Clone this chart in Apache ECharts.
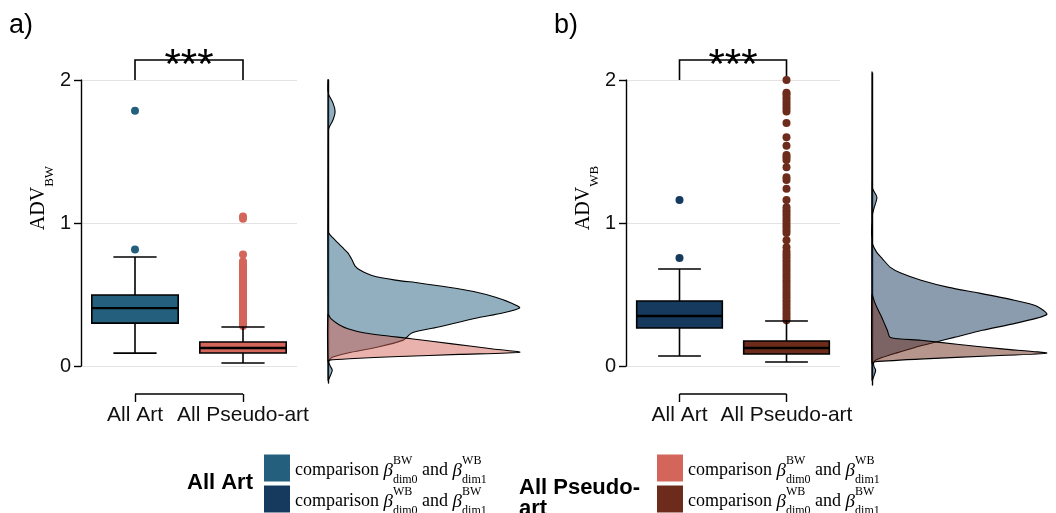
<!DOCTYPE html>
<html>
<head>
<meta charset="utf-8">
<script src="https://cdn.jsdelivr.net/npm/echarts@6/dist/echarts.min.js"></script>
<style>
  html, body { margin: 0; padding: 0; background: #fff; }
  #chart { width: 1056px; height: 513px; }
</style>
</head>
<body>
<div id="chart"></div>
<script>
const categories = ['All Art', 'All Pseudo-art'];

// [lower whisker, Q1, median, Q3, upper whisker]
const boxArtBW = [0.09, 0.30, 0.405, 0.497, 0.762];
const boxPseudoBW = [0.021, 0.091, 0.126, 0.168, 0.273];
const boxArtWB = [0.07, 0.266, 0.35, 0.455, 0.678];
const boxPseudoWB = [0.028, 0.084, 0.126, 0.175, 0.315];

const outArtBW = [0.815, 1.785];
const outPseudoBW = [0.28, 0.29, 0.30, 0.31, 0.32, 0.33, 0.34, 0.35, 0.36, 0.37, 0.38, 0.39,
  0.40, 0.41, 0.42, 0.43, 0.44, 0.45, 0.46, 0.47, 0.48, 0.49, 0.50, 0.51, 0.52, 0.53, 0.54,
  0.55, 0.56, 0.57, 0.58, 0.59, 0.60, 0.61, 0.62, 0.63, 0.64, 0.65, 0.66, 0.67, 0.68, 0.69,
  0.70, 0.71, 0.72, 0.73, 0.78, 1.03, 1.045];
const outArtWB = [0.755, 1.16];
const outPseudoWB = [0.32, 0.34, 0.36, 0.38, 0.40, 0.42, 0.44, 0.46, 0.48, 0.50, 0.52, 0.54,
  0.56, 0.58, 0.60, 0.62, 0.64, 0.66, 0.68, 0.70, 0.72, 0.74, 0.76, 0.78, 0.80, 0.83, 0.88,
  0.93, 0.95, 0.97, 0.99, 1.01, 1.03, 1.05, 1.07, 1.09, 1.11, 1.16, 1.24, 1.30, 1.32, 1.39,
  1.44, 1.46, 1.475, 1.54, 1.60, 1.70, 1.78, 1.80, 1.82, 1.84, 1.86, 1.88, 1.90, 1.91, 2.00];

// density curves: [ADV, density]
const densArtBW = [
  [-0.10, 0], [-0.06, 0.04], [-0.03, 0.06], [0.00, 0.03], [0.03, 0.01], [0.06, 0.06],
  [0.09, 0.28], [0.13, 0.69], [0.18, 1.06], [0.23, 1.18], [0.27, 1.54], [0.335, 2.10],
  [0.37, 2.46], [0.405, 2.70], [0.44, 2.58], [0.48, 2.36], [0.52, 2.05], [0.55, 1.70],
  [0.58, 1.28], [0.60, 0.95], [0.63, 0.63], [0.67, 0.45], [0.70, 0.38], [0.74, 0.34],
  [0.79, 0.28], [0.83, 0.20], [0.86, 0.14], [0.90, 0.06], [0.93, 0.01], [0.97, 0],
  [1.60, 0], [1.66, 0.01], [1.72, 0.07], [1.78, 0.10], [1.84, 0.07], [1.91, 0], [2.00, 0]
];
const densPseudoBW = [
  [0.03, 0], [0.04, 0.02], [0.05, 0.30], [0.065, 1.00], [0.08, 1.85], [0.095, 2.70],
  [0.12, 2.30], [0.154, 1.75], [0.19, 1.17], [0.23, 0.52], [0.26, 0.28], [0.29, 0.15],
  [0.33, 0.04], [0.36, 0]
];
const densArtWB = [
  [-0.10, 0], [-0.06, 0.04], [-0.03, 0.06], [0.00, 0.03], [0.03, 0.03], [0.05, 0.11],
  [0.09, 0.39], [0.13, 0.70], [0.17, 1.06], [0.20, 1.34], [0.25, 1.80], [0.30, 2.35],
  [0.36, 2.85], [0.42, 2.68], [0.46, 2.32], [0.51, 1.75], [0.55, 1.25], [0.60, 0.80],
  [0.65, 0.47], [0.69, 0.30], [0.75, 0.17], [0.80, 0.07], [0.87, 0],
  [1.04, 0], [1.10, 0.03], [1.18, 0.08], [1.24, 0.01], [1.28, 0], [2.05, 0]
];
const densPseudoWB = [
  [0.02, 0], [0.03, 0.05], [0.05, 0.85], [0.07, 1.90], [0.09, 2.85], [0.12, 2.12],
  [0.15, 1.42], [0.18, 0.80], [0.20, 0.30], [0.25, 0.25], [0.30, 0.20], [0.35, 0.15],
  [0.40, 0.09], [0.45, 0.04], [0.50, 0]
];

const legendNames = ['artBW', 'artWB', 'pseudoBW', 'pseudoWB'];
const legendText = {
  artBW: 'comparison {g|β}{sp|BW}{sb|dim0} and {g|β}{sp|WB}{sb|dim1}',
  artWB: 'comparison {g|β}{sp|WB}{sb|dim0} and {g|β}{sp|BW}{sb|dim1}',
  pseudoBW: 'comparison {g|β}{sp|BW}{sb|dim0} and {g|β}{sp|WB}{sb|dim1}',
  pseudoWB: 'comparison {g|β}{sp|WB}{sb|dim0} and {g|β}{sp|BW}{sb|dim1}',
};

const COL = { artBW: '#245f7e', pseudoBW: '#d3655a', artWB: '#163a5d', pseudoWB: '#6d2c1b' };
const SANS = "'Liberation Sans', Arial, sans-serif";
const SERIF = "'Liberation Serif', 'Times New Roman', serif";

function fade(hex, a) {
  const n = parseInt(hex.slice(1), 16);
  return `rgba(${n >> 16},${(n >> 8) & 255},${n & 255},${a})`;
}

function renderBox(params, api) {
  const c = api.value(0);
  const lo = api.coord([c, api.value(1)]);
  const q1 = api.coord([c, api.value(2)]);
  const md = api.coord([c, api.value(3)]);
  const q3 = api.coord([c, api.value(4)]);
  const hi = api.coord([c, api.value(5)]);
  const bw = api.size([1, 0])[0] * 0.8;
  const cw = bw / 2;
  const x = lo[0];
  const st = { stroke: '#000', lineWidth: 1.6 };
  return {
    type: 'group',
    children: [
      { type: 'line', shape: { x1: x, y1: lo[1], x2: x, y2: q1[1] }, style: st },
      { type: 'line', shape: { x1: x, y1: q3[1], x2: x, y2: hi[1] }, style: st },
      { type: 'line', shape: { x1: x - cw / 2, y1: lo[1], x2: x + cw / 2, y2: lo[1] }, style: st },
      { type: 'line', shape: { x1: x - cw / 2, y1: hi[1], x2: x + cw / 2, y2: hi[1] }, style: st },
      { type: 'rect', shape: { x: x - bw / 2, y: q3[1], width: bw, height: q1[1] - q3[1] },
        style: { fill: api.visual('color'), stroke: '#000', lineWidth: 1.6 } },
      { type: 'line', shape: { x1: x - bw / 2, y1: md[1], x2: x + bw / 2, y2: md[1] },
        style: { stroke: '#000', lineWidth: 2.4 } },
    ],
  };
}

function boxSeries(name, cat, stats, axis) {
  return {
    name, type: 'custom', xAxisIndex: axis, yAxisIndex: axis,
    itemStyle: { color: COL[name] },
    encode: { x: 0, y: [1, 2, 3, 4, 5] },
    data: [[cat, ...stats]],
    renderItem: renderBox,
    z: 3,
  };
}

function outlierSeries(name, cat, values, axis) {
  return {
    type: 'scatter', xAxisIndex: axis, yAxisIndex: axis, clip: false,
    symbolSize: 8, itemStyle: { color: COL[name], opacity: 1 },
    data: values.map((v) => [cat, v]),
    z: 2,
  };
}

function densitySeries(key, curve, axis) {
  return {
    type: 'custom', xAxisIndex: axis, yAxisIndex: axis, clip: false,
    encode: { x: 0, y: 1 },
    data: curve.map((d) => [d[1], d[0]]),
    renderItem: (params, api) => {
      if (params.dataIndex !== 0) return null;
      const pts = curve.map((d) => api.coord([d[1], d[0]]));
      return { type: 'polygon', shape: { points: pts, smooth: 0.25 },
        style: { fill: fade(COL[key], 0.5), stroke: '#000', lineWidth: 1.1 } };
    },
  };
}

function bracketSeries(axis) {
  return {
    type: 'custom', xAxisIndex: axis, yAxisIndex: axis, clip: false,
    data: [[0, 1, 2.0, 2.14]],
    renderItem: (params, api) => {
      const a0 = api.coord([api.value(0), api.value(2)]);
      const a1 = api.coord([api.value(0), api.value(3)]);
      const b1 = api.coord([api.value(1), api.value(3)]);
      const b0 = api.coord([api.value(1), api.value(2)]);
      return {
        type: 'group',
        children: [
          { type: 'polyline', shape: { points: [a0, a1, b1, b0] },
            style: { stroke: '#000', lineWidth: 1.6, fill: null } },
          { type: 'text', style: { text: '***', x: (a1[0] + b1[0]) / 2, y: a1[1] + 6,
            align: 'center', verticalAlign: 'middle', font: `42px ${SANS}`, fill: '#000' } },
        ],
      };
    },
  };
}

function capLine(axis) {
  return {
    type: 'line', xAxisIndex: axis, yAxisIndex: axis, symbol: 'none', clip: false,
    lineStyle: { color: '#000', width: 1.4 },
    data: [[0, 0], [1, 0]],
  };
}

const yName = (sub, gap) => ({
  name: `{a|ADV}{s|${sub}}`,
  nameLocation: 'middle',
  nameGap: gap,
  nameRotate: 90,
  nameTextStyle: {
    padding: [0, 0, 0, 50],
    rich: {
      a: { fontFamily: SERIF, fontSize: 20, color: '#000', lineHeight: 20, verticalAlign: 'top' },
      s: { fontFamily: SERIF, fontSize: 13, color: '#000', lineHeight: 27, verticalAlign: 'bottom' },
    },
  },
});

const boxY = (sub, gap) => ({
  type: 'value', min: 0, max: 2, interval: 1,
  axisLine: { show: true, lineStyle: { color: '#000', width: 1.4 } },
  axisTick: { show: true, length: 7, lineStyle: { color: '#000', width: 1.4 } },
  axisLabel: { color: '#111', fontSize: 20, fontFamily: SANS, margin: 10 },
  splitLine: { show: true, lineStyle: { color: '#e3e3e3', width: 1.2 } },
  ...yName(sub, gap),
});
const hiddenY = (min, max) => ({ type: 'value', min, max, show: false });
const densY = (min, max) => ({
  type: 'value', min, max,
  axisLine: { show: true, lineStyle: { color: '#000', width: 1.4 } },
  axisTick: { show: false }, axisLabel: { show: false }, splitLine: { show: false },
});
const catX = (labels) => ({
  type: 'category', data: categories,
  axisLine: { show: false },
  axisTick: { show: labels, length: 8, alignWithLabel: true, lineStyle: { color: '#000', width: 1.4 } },
  axisLabel: { show: labels, interval: 0, color: '#111', fontSize: 21, fontFamily: SANS, margin: 11 },
  splitLine: { show: false },
});
const densX = { type: 'value', min: 0, max: 3, show: false };

const legendBase = {
  orient: 'vertical', icon: 'rect', itemWidth: 26, itemHeight: 27, itemGap: 0,
  selectedMode: false,
  formatter: (name) => legendText[name],
  textStyle: {
    fontFamily: SERIF, fontSize: 18, color: '#000', lineHeight: 31,
    padding: [5, 0, 0, 0],
    rich: {
      g: { fontFamily: SERIF, fontStyle: 'italic', fontSize: 19, color: '#000', lineHeight: 19 },
      sp: { fontFamily: SERIF, fontSize: 12, color: '#000', width: 0, lineHeight: 12, verticalAlign: 'top' },
      sb: { fontFamily: SERIF, fontSize: 12, color: '#000', lineHeight: 12, verticalAlign: 'bottom' },
    },
  },
};
const legendLeft = [259, 259, 652, 652];
const legendTop = [445, 476, 445, 476];

const chart = echarts.init(document.getElementById('chart'), null, { renderer: 'canvas' });
chart.setOption({
  animation: false,
  backgroundColor: '#fff',
  grid: [
    { left: 81, top: 80, width: 216, height: 286 },
    { left: 81, top: 384, width: 216, height: 10 },
    { left: 328, top: 80, width: 213, height: 303 },
    { left: 626, top: 80, width: 214, height: 286 },
    { left: 626, top: 384, width: 214, height: 10 },
    { left: 872, top: 73, width: 211, height: 312 },
  ],
  xAxis: [
    { gridIndex: 0, ...catX(false) },
    { gridIndex: 1, ...catX(true) },
    { gridIndex: 2, ...densX },
    { gridIndex: 3, ...catX(false) },
    { gridIndex: 4, ...catX(true) },
    { gridIndex: 5, ...densX },
  ],
  yAxis: [
    { gridIndex: 0, ...boxY('BW', 21) },
    { gridIndex: 1, ...hiddenY(0, 1) },
    { gridIndex: 2, ...densY(-0.12, 2.0) },
    { gridIndex: 3, ...boxY('WB', 16) },
    { gridIndex: 4, ...hiddenY(0, 1) },
    { gridIndex: 5, ...densY(-0.133, 2.05) },
  ],
  legend: legendNames.map((n, i) => ({
    ...legendBase, left: legendLeft[i], top: legendTop[i], data: [n],
  })),
  graphic: [
    { type: 'text', left: 9, top: 12, style: { text: 'a)', font: `27px ${SANS}`, fill: '#000' } },
    { type: 'text', left: 554, top: 12, style: { text: 'b)', font: `27px ${SANS}`, fill: '#000' } },
    { type: 'text', left: 187, top: 472, style: { text: 'All Art', font: `bold 22px ${SANS}`, fill: '#000' } },
    { type: 'text', left: 519, top: 477, style: { text: 'All Pseudo-\nart', font: `bold 22px ${SANS}`, lineHeight: 21, fill: '#000' } },
  ],
  series: [
    boxSeries('artBW', 0, boxArtBW, 0),
    boxSeries('pseudoBW', 1, boxPseudoBW, 0),
    boxSeries('artWB', 0, boxArtWB, 3),
    boxSeries('pseudoWB', 1, boxPseudoWB, 3),
    outlierSeries('artBW', 0, outArtBW, 0),
    outlierSeries('pseudoBW', 1, outPseudoBW, 0),
    outlierSeries('artWB', 0, outArtWB, 3),
    outlierSeries('pseudoWB', 1, outPseudoWB, 3),
    bracketSeries(0),
    bracketSeries(3),
    capLine(1),
    capLine(4),
    densitySeries('artBW', densArtBW, 2),
    densitySeries('pseudoBW', densPseudoBW, 2),
    densitySeries('artWB', densArtWB, 5),
    densitySeries('pseudoWB', densPseudoWB, 5),
  ],
});
</script>
</body>
</html>
